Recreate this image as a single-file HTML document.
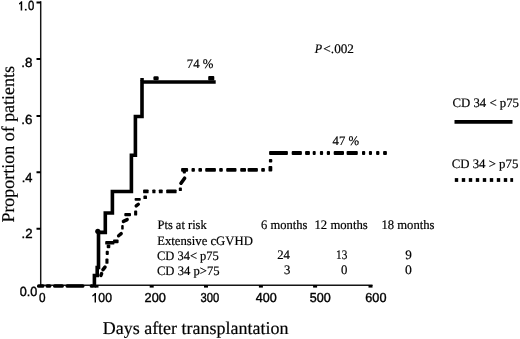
<!DOCTYPE html>
<html><head><meta charset="utf-8">
<style>
html,body{margin:0;padding:0;background:#fff;}
body{width:520px;height:339px;overflow:hidden;}
svg{display:block;will-change:transform;}
text{text-rendering:geometricPrecision;stroke:#000;stroke-width:0.2px;}
.s{font-family:"Liberation Sans",sans-serif;fill:#000;stroke-width:0.4px;}
.t{font-family:"Liberation Serif",serif;fill:#000;}
.ti{font-family:"Liberation Serif",serif;font-style:italic;fill:#000;}
</style></head>
<body>
<svg width="520" height="339" viewBox="0 0 520 339">
<g stroke="#000" fill="none">
<path d="M40.7 1.3V286" stroke-width="1.45" stroke="#151515"/>
<path d="M41 285.2H372.5" stroke-width="1.6" stroke="#151515"/>
<path d="M36.5 2.4H41M36.5 59H41M36.5 116H41M36.5 172.2H41M36.5 228.7H41" stroke-width="2"/>
</g>
<g fill="#000">
<rect x="94.5" y="285" width="4" height="2.6"/>
<rect x="149.7" y="285" width="4" height="2.6"/>
<rect x="204" y="285" width="4" height="2.6"/>
<rect x="258.9" y="285" width="4" height="2.6"/>
<rect x="313.1" y="285" width="4" height="2.6"/>
<rect x="368.5" y="285" width="4" height="2.6"/>
</g>
<path d="M94.4 287.6V275.5H97.2V267.5H98.5V232.4H105.3V213H112.4V191.5H131.4V155.3H135.4V116.5H142V82H215.7" stroke="#000" stroke-width="3.6" fill="none"/>
<circle cx="97.8" cy="231.3" r="2.6" fill="#000"/>
<rect x="140.3" y="78" width="3.5" height="3" fill="#000"/>
<rect x="153.4" y="76.3" width="5.3" height="4" rx="1.3" fill="#000"/>
<rect x="208.2" y="76" width="6.1" height="4.5" rx="1" fill="#000"/>
<g fill="#000">
<rect x="37.0" y="284.2" width="7.4" height="3.6" rx="1.6"/>
<rect x="45.6" y="284.2" width="5.7" height="3.6" rx="1.6"/>
<rect x="53.1" y="284.2" width="10.7" height="3.6" rx="1.6"/>
<rect x="65.6" y="284.2" width="18.8" height="3.6" rx="1.6"/>
<rect x="89.8" y="284.2" width="4.0" height="3.6" rx="1.6"/>
<rect x="143.1" y="189.4" width="5.5" height="3.9" rx="0.9"/>
<rect x="152.3" y="189.4" width="3.2" height="3.9" rx="0.9"/>
<rect x="158.8" y="189.4" width="3.9" height="3.9" rx="0.9"/>
<rect x="166.2" y="189.4" width="10.4" height="3.9" rx="0.9"/>
<rect x="178.8" y="187.6" width="3.1" height="3.5" rx="0.9"/>
<rect x="181.1" y="168.0" width="7.0" height="3.7" rx="0.9"/>
<rect x="191.5" y="168.0" width="3.4" height="3.7" rx="0.9"/>
<rect x="198.4" y="168.0" width="3.6" height="3.7" rx="0.9"/>
<rect x="205.2" y="168.0" width="10.7" height="3.7" rx="0.9"/>
<rect x="219.2" y="168.0" width="3.6" height="3.7" rx="0.9"/>
<rect x="226.2" y="168.0" width="10.3" height="3.7" rx="0.9"/>
<rect x="240.2" y="168.0" width="5.8" height="3.7" rx="0.9"/>
<rect x="247.6" y="168.0" width="10.3" height="3.7" rx="0.9"/>
<rect x="261.2" y="168.0" width="3.7" height="3.7" rx="0.9"/>
<rect x="182.7" y="170.0" width="3.2" height="3.4" rx="0.9"/>
<rect x="268.5" y="166.1" width="3.8" height="5.4" rx="0.9"/>
<rect x="268.9" y="159.1" width="3.4" height="3.3" rx="0.9"/>
<rect x="269.1" y="151.1" width="18.8" height="3.9" rx="0.9"/>
<rect x="291.7" y="151.1" width="10.2" height="3.9" rx="0.9"/>
<rect x="305.1" y="151.1" width="4.8" height="3.9" rx="0.9"/>
<rect x="312.7" y="151.1" width="3.0" height="3.9" rx="0.9"/>
<rect x="319.9" y="151.1" width="3.2" height="3.9" rx="0.9"/>
<rect x="326.8" y="151.1" width="3.2" height="3.9" rx="0.9"/>
<rect x="333.7" y="151.1" width="10.3" height="3.9" rx="0.9"/>
<rect x="346.6" y="151.1" width="11.2" height="3.9" rx="0.9"/>
<rect x="362.0" y="151.1" width="3.2" height="3.9" rx="0.9"/>
<rect x="368.9" y="151.1" width="3.1" height="3.9" rx="0.9"/>
<rect x="376.1" y="151.1" width="3.3" height="3.9" rx="0.9"/>
<rect x="383.1" y="151.1" width="3.8" height="3.9" rx="0.9"/>
<rect x="105.4" y="258.6" width="3.1" height="5.2" rx="0.9"/>
<rect x="105.7" y="250.8" width="3.1" height="4.1" rx="0.9"/>
<rect x="106.7" y="244.6" width="3.6" height="3.6" rx="0.9"/>
<rect x="105.2" y="241.0" width="9.2" height="3.6" rx="0.9"/>
<rect x="113.0" y="239.6" width="5.6" height="3.6" rx="0.9"/>
<rect x="121.2" y="225.0" width="2.5" height="4.6" rx="0.9"/>
<rect x="124.3" y="213.1" width="6.7" height="3.1" rx="0.9"/>
<rect x="134.1" y="210.5" width="3.1" height="5.1" rx="0.9"/>
<rect x="134.6" y="198.1" width="6.2" height="2.6" rx="0.9"/>
<rect x="143.4" y="195.5" width="3.6" height="3.6" rx="0.9"/>
</g><g stroke="#000" stroke-linecap="round" fill="none">
<line x1="100.9" y1="275.4" x2="101.6" y2="273.6" stroke-width="3.5"/>
<line x1="103.0" y1="269.6" x2="105.0" y2="267.2" stroke-width="3.6"/>
<line x1="118.6" y1="235.8" x2="121.2" y2="233.6" stroke-width="3.4"/>
<line x1="123.4" y1="221.4" x2="127.2" y2="219.6" stroke-width="3.4"/>
<line x1="136.2" y1="205.9" x2="138.3" y2="204.2" stroke-width="3.4"/>
<line x1="181.0" y1="183.2" x2="184.6" y2="178.2" stroke-width="3.6"/>
</g>
<rect x="454.5" y="120" width="58" height="3.75" fill="#000"/>
<g fill="#000">
<rect x="454.8" y="178.1" width="3.4" height="3.8"/>
<rect x="461.8" y="178.1" width="3.4" height="3.8"/>
<rect x="468.8" y="178.1" width="3.4" height="3.8"/>
<rect x="475.8" y="178.1" width="3.4" height="3.8"/>
<rect x="482.8" y="178.1" width="3.4" height="3.8"/>
<rect x="489.8" y="178.1" width="3.4" height="3.8"/>
<rect x="496.8" y="178.1" width="3.4" height="3.8"/>
<rect x="503.8" y="178.1" width="3.4" height="3.8"/>
<rect x="510.3" y="178.1" width="2.8" height="3.8"/>
</g>
<path d="M22.2 10.5L20.7 10.5L20.7 3.4Q19.9 4.1 19 4.5L19 3.2Q20.6 2.4 21.2 1.2L22.2 1.2Z" fill="#000"/>
<path d="M96 302.6L94.6 302.6L94.6 295.2Q93.5 296 92.3 296.5L92.3 295.2Q94 294.3 94.8 293.1L96 293.1Z" fill="#000"/>
<rect x="24.9" y="8.9" width="1.7" height="1.6" fill="#000"/>
<text class="s" x="28.09" y="10.35" font-size="13.2" textLength="6.31" lengthAdjust="spacingAndGlyphs">0</text>
<text class="s" x="21.18" y="67.15" font-size="13.2" textLength="11.17" lengthAdjust="spacingAndGlyphs">.8</text>
<text class="s" x="21.18" y="124.25" font-size="13.2" textLength="11.17" lengthAdjust="spacingAndGlyphs">.6</text>
<text class="s" x="21.63" y="181.65" font-size="13.2" textLength="10.72" lengthAdjust="spacingAndGlyphs">.4</text>
<text class="s" x="21.60" y="237.85" font-size="13.2" textLength="11.00" lengthAdjust="spacingAndGlyphs">.2</text>
<text class="s" x="19.76" y="295.55" font-size="13.2" textLength="17.57" lengthAdjust="spacingAndGlyphs">0.0</text>
<text class="s" x="38.97" y="302.35" font-size="13" textLength="6.54" lengthAdjust="spacingAndGlyphs">0</text>
<text class="s" x="98.37" y="302.35" font-size="13" textLength="13.54" lengthAdjust="spacingAndGlyphs">00</text>
<text class="s" x="144.61" y="302.35" font-size="13" textLength="21.23" lengthAdjust="spacingAndGlyphs">200</text>
<text class="s" x="200.58" y="302.35" font-size="13" textLength="18.71" lengthAdjust="spacingAndGlyphs">300</text>
<text class="s" x="255.80" y="302.35" font-size="13" textLength="20.94" lengthAdjust="spacingAndGlyphs">400</text>
<text class="s" x="309.86" y="302.35" font-size="13" textLength="20.98" lengthAdjust="spacingAndGlyphs">500</text>
<text class="s" x="365.31" y="302.35" font-size="13" textLength="21.13" lengthAdjust="spacingAndGlyphs">600</text>
<text class="t" x="186.76" y="68.05" font-size="13" textLength="26.68" lengthAdjust="spacingAndGlyphs">74 %</text>
<text class="t" x="332.55" y="145.05" font-size="13" textLength="26.58" lengthAdjust="spacingAndGlyphs">47 %</text>
<text class="ti" x="314.83" y="52.60" font-size="13" textLength="7.36" lengthAdjust="spacingAndGlyphs">P</text>
<text class="t" x="323.39" y="52.60" font-size="13" textLength="30.61" lengthAdjust="spacingAndGlyphs">&lt;.002</text>
<text class="t" x="452.41" y="107.20" font-size="13" textLength="66.58" lengthAdjust="spacingAndGlyphs">CD 34 &lt; p75</text>
<text class="t" x="451.71" y="168.20" font-size="13" textLength="66.58" lengthAdjust="spacingAndGlyphs">CD 34 &gt; p75</text>
<text class="t" x="157.51" y="229.10" font-size="13" textLength="49.19" lengthAdjust="spacingAndGlyphs">Pts at risk</text>
<text class="t" x="157.16" y="244.70" font-size="13" textLength="95.68" lengthAdjust="spacingAndGlyphs">Extensive cGVHD</text>
<text class="t" x="156.92" y="259.80" font-size="13" textLength="61.96" lengthAdjust="spacingAndGlyphs">CD 34&lt; p75</text>
<text class="t" x="156.91" y="275.20" font-size="13" textLength="62.67" lengthAdjust="spacingAndGlyphs">CD 34 p&gt;75</text>
<text class="t" x="261.02" y="229.10" font-size="13" textLength="46.27" lengthAdjust="spacingAndGlyphs">6 months</text>
<text class="t" x="314.52" y="229.10" font-size="13" textLength="53.27" lengthAdjust="spacingAndGlyphs">12 months</text>
<text class="t" x="381.43" y="229.10" font-size="13" textLength="53.06" lengthAdjust="spacingAndGlyphs">18 months</text>
<text class="t" x="277.21" y="259.25" font-size="13" textLength="12.79" lengthAdjust="spacingAndGlyphs">24</text>
<text class="t" x="336.03" y="259.25" font-size="13" textLength="11.30" lengthAdjust="spacingAndGlyphs">13</text>
<text class="t" x="405.35" y="259.45" font-size="13" textLength="6.56" lengthAdjust="spacingAndGlyphs">9</text>
<text class="t" x="284.11" y="274.15" font-size="13" textLength="6.38" lengthAdjust="spacingAndGlyphs">3</text>
<text class="t" x="341.01" y="274.25" font-size="13" textLength="6.38" lengthAdjust="spacingAndGlyphs">0</text>
<text class="t" x="405.07" y="274.25" font-size="13" textLength="6.85" lengthAdjust="spacingAndGlyphs">0</text>
<text class="t" x="102.70" y="333.80" font-size="18" textLength="185.79" lengthAdjust="spacingAndGlyphs">Days after transplantation</text>
<text class="t" transform="translate(14.20 222.60) rotate(-90)" font-size="18" textLength="156.58" lengthAdjust="spacingAndGlyphs">Proportion of patients</text>
</svg>
</body></html>
